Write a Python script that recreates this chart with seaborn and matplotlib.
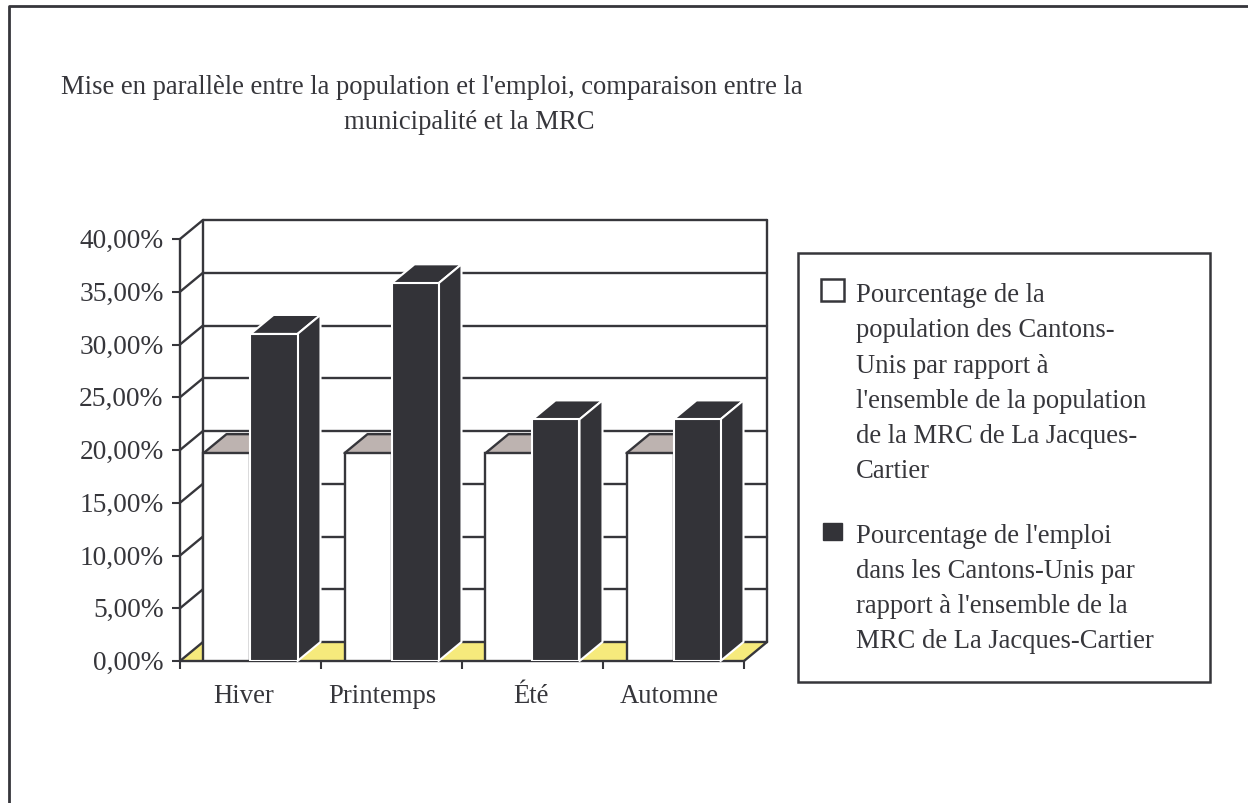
import matplotlib
matplotlib.use("Agg")
import matplotlib.pyplot as plt
from matplotlib.patches import Polygon, Rectangle, Patch
from matplotlib.lines import Line2D
from matplotlib.transforms import ScaledTranslation
import pandas as pd
import seaborn as sns

saisons = ["Hiver", "Printemps", "Été", "Automne"]
population = [19.7, 19.7, 19.7, 19.7]
emploi = [31.0, 35.8, 22.9, 22.9]
serie_population = ("Pourcentage de la\npopulation des Cantons-\nUnis par rapport à\n"
                    "l'ensemble de la population\nde la MRC de La Jacques-\nCartier")
serie_emploi = ("Pourcentage de l'emploi\ndans les Cantons-Unis par\n"
                "rapport à l'ensemble de la\nMRC de La Jacques-Cartier")
titre_1 = "Mise en parallèle entre la population et l'emploi, comparaison entre la"
titre_2 = "municipalité et la MRC"
graduations = [0, 5, 10, 15, 20, 25, 30, 35, 40]
decalages_etiquettes = [-7, -9, -2, -4]

INK = "#36363b"
DARK = "#333338"
TOPGREY = "#bdb3b0"
YELLOW = "#f6ea7c"

sns.set_theme(style="white")
plt.rcParams["font.family"] = ["Liberation Serif", "DejaVu Serif"]
plt.rcParams["text.color"] = INK

W, H = 1248, 804
fig = plt.figure(figsize=(W / 100, H / 100), dpi=100, facecolor="white")
ax = fig.add_axes([180 / W, 1 - 662 / H, 564 / W, 422 / H])

df = pd.DataFrame({
    "saison": saisons * 2,
    "valeur": population + emploi,
    "serie": ["population"] * 4 + ["emploi"] * 4,
})
sns.barplot(data=df, x="saison", y="valeur", hue="serie", order=saisons,
            palette=["white", DARK], saturation=1, width=2 / 3, gap=0,
            legend=False, ax=ax)
ax.set_xlim(-0.5, 3.5)
ax.set_ylim(0, 40)
ax.set_xlabel("")
ax.set_ylabel("")
for s in ax.spines.values():
    s.set_visible(False)
ax.patch.set_alpha(0)

DX = 23 / 141      # depth in category units
DY = 19 / (422 / 40)   # depth in value units
LW = 1.7
x0, x1 = -0.5, 3.5

def poly(pts, fc, ec="none", z=1, lw=LW):
    ax.add_patch(Polygon(pts, closed=True, facecolor=fc, edgecolor=ec, lw=lw,
                         zorder=z, clip_on=False, joinstyle="round"))

def line(xs, ys, z=1.5, color=INK, lw=LW):
    ax.add_line(Line2D(xs, ys, color=color, lw=lw, zorder=z, clip_on=False,
                       solid_capstyle="round"))

# floor and walls
poly([(x0, 0), (x0 + DX, DY), (x1 + DX, DY), (x1, 0)], YELLOW, z=1)
for g in graduations:
    line([x0 + DX, x1 + DX], [g + DY, g + DY])
    line([x0, x0 + DX], [g, g + DY])
line([x0, x0], [0, 40])
line([x0 + DX, x0 + DX], [DY, 40 + DY])
line([x1 + DX, x1 + DX], [DY, 40 + DY])
line([x1, x1 + DX], [0, DY])
line([x0, x1], [0, 0])

# 3D faces derived from the bars
for p in ax.patches[:]:
    if not isinstance(p, Rectangle):
        continue
    x, w, h = p.get_x(), p.get_width(), p.get_height()
    sombre = p.get_facecolor()[0] < 0.5
    if sombre:
        p.set(edgecolor="white", linewidth=1.5, zorder=6)
        poly([(x, h), (x + DX, h + DY), (x + w + DX, h + DY), (x + w, h)], DARK, "white", 5, 1.5)
        poly([(x + w, 0), (x + w + DX, DY), (x + w + DX, h + DY), (x + w, h)], DARK, "white", 5, 1.5)
    else:
        p.set(edgecolor=INK, linewidth=LW, zorder=4)
        poly([(x, h), (x + DX, h + DY), (x + w + DX, h + DY), (x + w, h)], TOPGREY, INK, 3)

# axes ticks
ax.set_yticks(graduations)
ax.set_yticklabels([f"{g:.2f}%".replace(".", ",") for g in graduations], fontsize=19.7, color=INK)
ax.tick_params(axis="y", length=5.8, width=1.5, color=INK, pad=6, left=True)
for lab in ax.get_yticklabels():
    lab.set_transform(lab.get_transform() + ScaledTranslation(0, 1.5 / 100, fig.dpi_scale_trans))
ax.set_xticks(range(len(saisons)))
ax.set_xticklabels(saisons, fontsize=19.2, color=INK)
ax.tick_params(axis="x", which="major", length=0, pad=16)
ax.set_xticks([-0.5, 0.5, 1.5, 2.5, 3.5], minor=True)
ax.tick_params(axis="x", which="minor", length=5.8, width=1.5, color=INK, bottom=True)
for lab, d in zip(ax.get_xticklabels(), decalages_etiquettes):
    lab.set_transform(lab.get_transform() + ScaledTranslation(d / 100, 0, fig.dpi_scale_trans))

# title (its two lines are not centred on the same axis)
fig.text(431.5 / W, 1 - 87 / H, titre_1, ha="center", va="center", fontsize=19.2, color=INK)
fig.text(469 / W, 1 - 122.5 / H, titre_2, ha="center", va="center", fontsize=19.2, color=INK)

# outer frame (open on the right)
fig.add_artist(Line2D([9 / W, 9 / W, 1],
                      [0, 1 - 7 / H, 1 - 7 / H], color=INK, lw=2))

# legend frame
fig.add_artist(Rectangle((798 / W, 1 - 683 / H), 412 / W, 429 / H, transform=fig.transFigure,
                         facecolor="white", edgecolor=INK, lw=1.8, zorder=1))

# legend
handles = [Patch(facecolor="white", edgecolor=INK, linewidth=1.8),
           Patch(facecolor=DARK, edgecolor=DARK, linewidth=1)]
leg = fig.legend(handles, [serie_population, serie_emploi],
                 loc="upper left", bbox_to_anchor=(821 / W, 1 - 283 / H),
                 bbox_transform=fig.transFigure, borderaxespad=0, fontsize=19.15,
                 frameon=False,
                 handlelength=0.87, handleheight=0.87, handletextpad=0.45,
                 labelspacing=1.48, borderpad=0)
leg.set_zorder(3)
for t in leg.get_texts():
    t.set_linespacing(1.54)
    t.set_color(INK)
for hp in leg._legend_handle_box.get_children()[0].get_children():
    hp.align = "top"
a, b = leg.legend_handles
ax_, ay, aw, ah = a.get_bbox().bounds
a.set_bounds(ax_, ay + 2.2, aw, ah)
bx, by, bw, bh = b.get_bbox().bounds
b.set_bounds(bx + 1.5, by + 1.5 + 1.4, bw - 3, bh - 3)

fig.savefig("out.png", dpi=100, facecolor="white")
